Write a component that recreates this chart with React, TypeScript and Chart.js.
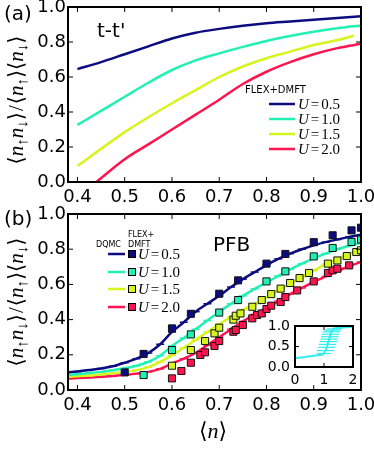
import React, { useEffect, useRef } from 'react';
import { Chart, registerables } from 'chart.js';
Chart.register(...registerables);

// ---------- shared ticks / labels ----------
const xTicks = [0.4, 0.5, 0.6, 0.7, 0.8, 0.9, 1.0];
const yTicks = [0.0, 0.2, 0.4, 0.6, 0.8, 1.0];
const insetXTicks = [0, 1, 2];
const insetYTicks = [0.0, 0.5, 1.0];
const uLabels = ['0.5', '1.0', '1.5', '2.0'];
const colors = ['#0c0c80', '#22f0b4', '#d6f51e', '#ff1450'];

// ---------- panel (a): t-t' FLEX+DMFT ----------
const xA = [0.4, 0.45, 0.5, 0.55, 0.6, 0.65, 0.7, 0.75, 0.8, 0.85, 0.9, 0.95, 1.0];
const aU05 = [0.645, 0.685, 0.73, 0.775, 0.82, 0.853, 0.875, 0.893, 0.907, 0.917, 0.927, 0.937, 0.947];
const aU10 = [0.326, 0.406, 0.487, 0.567, 0.64, 0.695, 0.735, 0.772, 0.806, 0.834, 0.858, 0.878, 0.895];
const xAU15 = [0.4, 0.45, 0.5, 0.55, 0.6, 0.65, 0.7, 0.75, 0.8, 0.85, 0.9, 0.95, 0.985];
const aU15 = [0.091, 0.19, 0.285, 0.37, 0.45, 0.525, 0.6, 0.66, 0.707, 0.745, 0.783, 0.811, 0.836];
const xAU20 = [0.44, 0.5, 0.55, 0.6, 0.65, 0.7, 0.75, 0.8, 0.85, 0.9, 0.95, 1.0];
const aU20 = [0.0, 0.13, 0.215, 0.3, 0.385, 0.47, 0.56, 0.63, 0.685, 0.73, 0.765, 0.79];

// ---------- panel (b): PFB ----------
const xB = [0.38, 0.4, 0.425, 0.45, 0.475, 0.5, 0.525, 0.55, 0.575, 0.6, 0.625, 0.65, 0.675, 0.7, 0.725, 0.75, 0.775, 0.8, 0.825, 0.85, 0.875, 0.9, 0.925, 0.95, 0.975, 1.0];
const bU05 = [0.1, 0.105, 0.113, 0.122, 0.135, 0.155, 0.178, 0.21, 0.26, 0.33, 0.385, 0.445, 0.49, 0.535, 0.585, 0.63, 0.67, 0.71, 0.745, 0.775, 0.8, 0.822, 0.84, 0.855, 0.87, 0.882];
const bU10 = [0.085, 0.09, 0.096, 0.103, 0.112, 0.123, 0.138, 0.16, 0.195, 0.25, 0.295, 0.345, 0.395, 0.445, 0.49, 0.535, 0.575, 0.61, 0.648, 0.685, 0.718, 0.748, 0.775, 0.8, 0.82, 0.835];
const bU15 = [0.075, 0.078, 0.082, 0.088, 0.095, 0.103, 0.113, 0.13, 0.16, 0.197, 0.24, 0.285, 0.33, 0.375, 0.415, 0.455, 0.49, 0.525, 0.565, 0.603, 0.643, 0.678, 0.715, 0.745, 0.775, 0.8];
const bU20 = [0.065, 0.068, 0.071, 0.075, 0.08, 0.086, 0.093, 0.103, 0.12, 0.15, 0.178, 0.21, 0.255, 0.3, 0.345, 0.39, 0.43, 0.462, 0.505, 0.545, 0.58, 0.614, 0.645, 0.675, 0.703, 0.727];

const sqX05 = [0.5, 0.54, 0.6, 0.64, 0.7, 0.74, 0.8, 0.84, 0.9, 0.94, 0.98, 1.0];
const sqY05 = [0.1, 0.205, 0.35, 0.433, 0.547, 0.623, 0.718, 0.773, 0.84, 0.879, 0.907, 0.922];
const sqX10 = [0.54, 0.6, 0.64, 0.7, 0.74, 0.8, 0.84, 0.9, 0.94, 0.98, 1.0];
const sqY10 = [0.085, 0.227, 0.316, 0.44, 0.511, 0.617, 0.674, 0.759, 0.807, 0.841, 0.855];
const sqX15 = [0.6, 0.64, 0.67, 0.69, 0.7, 0.73, 0.735, 0.745, 0.77, 0.79, 0.81, 0.83, 0.85, 0.87, 0.89, 0.93, 0.95, 0.97, 0.99, 1.0];
const sqY15 = [0.138, 0.227, 0.278, 0.322, 0.354, 0.4, 0.422, 0.435, 0.473, 0.511, 0.545, 0.576, 0.608, 0.636, 0.665, 0.718, 0.736, 0.761, 0.784, 0.794];
const sqX20 = [0.6, 0.62, 0.64, 0.66, 0.67, 0.69, 0.7, 0.73, 0.735, 0.75, 0.77, 0.78, 0.79, 0.8, 0.81, 0.83, 0.84, 0.865, 0.9, 0.93, 0.94, 0.95, 0.975];
const sqY20 = [0.066, 0.108, 0.155, 0.199, 0.214, 0.25, 0.278, 0.331, 0.341, 0.369, 0.407, 0.426, 0.435, 0.46, 0.479, 0.5, 0.528, 0.566, 0.617, 0.665, 0.68, 0.689, 0.708];

// ---------- inset ----------
const insetX = [0, 0.3, 0.6, 0.9, 1.0, 1.05, 1.1, 1.12, 1.15, 1.18, 1.2, 1.22, 1.25, 1.3, 1.35, 1.45, 1.6, 1.8, 2.0];
const insetY = [0.22, 0.24, 0.27, 0.3, 0.33, 0.4, 0.48, 0.55, 0.62, 0.68, 0.74, 0.8, 0.86, 0.9, 0.93, 0.95, 0.96, 0.97, 0.98];
const insetXErr = [0, 0, 0, 0.1, 0.25, 0.3, 0.3, 0.3, 0.3, 0.3, 0.3, 0.3, 0.3, 0.28, 0.25, 0.15, 0, 0, 0];

const SANS = "'DejaVu Sans', sans-serif";
const MATH = "'Liberation Serif', 'DejaVu Serif', serif";

const pts = (xs: number[], ys: number[]) => xs.map((x, i) => ({ x, y: ys[i] }));

type Seg = { t: string; f: string; dy?: number; gap?: number };

function drawSegs(ctx: CanvasRenderingContext2D, segs: Seg[], x: number, y: number, center = false) {
  let w = 0;
  for (const s of segs) { ctx.font = s.f; w += ctx.measureText(s.t).width + (s.gap || 0); }
  let cx = center ? x - w / 2 : x;
  for (const s of segs) {
    ctx.font = s.f;
    ctx.fillText(s.t, cx, y + (s.dy || 0));
    cx += ctx.measureText(s.t).width + (s.gap || 0);
  }
}

function yTitleSegs(size: number): Seg[] {
  const R = `${size}px ${MATH}`;
  const I = `italic ${size}px ${MATH}`;
  const S = `${Math.round(size * 0.72)}px ${MATH}`;
  const d = size * 0.28;
  return [
    { t: '\u27E8', f: R }, { t: 'n', f: I }, { t: '\u2191', f: S, dy: d }, { t: 'n', f: I }, { t: '\u2193', f: S, dy: d }, { t: '\u27E9', f: R, gap: 1 },
    { t: '/', f: R, gap: 1 },
    { t: '\u27E8', f: R }, { t: 'n', f: I }, { t: '\u2191', f: S, dy: d }, { t: '\u27E9', f: R },
    { t: '\u27E8', f: R }, { t: 'n', f: I }, { t: '\u2193', f: S, dy: d }, { t: '\u27E9', f: R },
  ];
}

function drawYTitle(ctx: CanvasRenderingContext2D, cx: number, cy: number) {
  ctx.save();
  ctx.translate(cx, cy);
  ctx.rotate(-Math.PI / 2);
  ctx.textBaseline = 'middle';
  ctx.textAlign = 'left';
  drawSegs(ctx, yTitleSegs(21), 0, 0, true);
  ctx.restore();
}

function drawU(ctx: CanvasRenderingContext2D, u: string, x: number, y: number) {
  drawSegs(ctx, [
    { t: 'U', f: `italic 15px ${MATH}`, gap: 2 },
    { t: '=', f: `15px ${MATH}`, gap: 2 },
    { t: u, f: `15px ${MATH}` },
  ], x, y);
}

function seg(ctx: CanvasRenderingContext2D, x1: number, y1: number, x2: number, y2: number) {
  ctx.beginPath(); ctx.moveTo(x1, y1); ctx.lineTo(x2, y2); ctx.stroke();
}

type FrameOpts = { len: number; lw: number; fs: number; xOff: number; yPad: number; xdec: number; ydec: number };

const framePlugin = (o: FrameOpts) => ({
  id: 'frame',
  afterDatasetsDraw(chart: any) {
    const { ctx, chartArea, scales } = chart;
    const { left, right, top, bottom } = chartArea;
    ctx.save();
    ctx.strokeStyle = '#000';
    ctx.fillStyle = '#000';
    ctx.lineWidth = 1;
    ctx.font = `${o.fs}px ${SANS}`;
    ctx.textBaseline = 'middle';
    for (const t of scales.x.ticks) {
      const px = scales.x.getPixelForValue(t.value);
      seg(ctx, px, bottom, px, bottom - o.len);
      seg(ctx, px, top, px, top + o.len);
      ctx.textAlign = 'center';
      ctx.fillText(Number(t.value).toFixed(o.xdec), px, bottom + o.xOff);
    }
    for (const t of scales.y.ticks) {
      const py = scales.y.getPixelForValue(t.value);
      seg(ctx, left, py, left + o.len, py);
      seg(ctx, right, py, right - o.len, py);
      ctx.textAlign = 'right';
      ctx.fillText(Number(t.value).toFixed(o.ydec), left - o.yPad, py);
    }
    ctx.lineWidth = o.lw;
    ctx.strokeRect(left, top, right - left, bottom - top);
    ctx.restore();
  },
});

function scalesFor(opts: { xmin: number; xmax: number; xt: number[]; yt: number[]; yW: number; xH: number }) {
  return {
    x: {
      type: 'linear', min: opts.xmin, max: opts.xmax,
      afterBuildTicks: (s: any) => { s.ticks = opts.xt.map((v) => ({ value: v })); },
      afterFit: (s: any) => { s.height = opts.xH; s.paddingLeft = 0; s.paddingRight = 0; },
      grid: { display: false, drawTicks: false },
      border: { display: false },
      ticks: { display: false },
    },
    y: {
      type: 'linear', min: 0, max: 1,
      afterBuildTicks: (s: any) => { s.ticks = opts.yt.map((v) => ({ value: v })); },
      afterFit: (s: any) => { s.width = opts.yW; s.paddingTop = 0; s.paddingBottom = 0; },
      grid: { display: false, drawTicks: false },
      border: { display: false },
      ticks: { display: false },
    },
  };
}

const lineDS = (data: any[], color: string, extra: any = {}) => ({
  data, borderColor: color, backgroundColor: color, borderWidth: 2.5, showLine: true,
  pointRadius: 0, cubicInterpolationMode: 'monotone', ...extra,
});

export default function App() {
  const refA = useRef<HTMLCanvasElement>(null);
  const refB = useRef<HTMLCanvasElement>(null);
  const refI = useRef<HTMLCanvasElement>(null);

  useEffect(() => {
    const base = { responsive: false, animation: false, devicePixelRatio: 1, events: [] as any[], plugins: { legend: { display: false }, tooltip: { enabled: false } } };
    const mainFrame: FrameOpts = { len: 5, lw: 2, fs: 18, xOff: 15, yPad: 2, xdec: 1, ydec: 1 };

    // ---- panel (a)
    const textA = {
      id: 'textA',
      afterDraw(chart: any) {
        const ctx = chart.ctx as CanvasRenderingContext2D;
        ctx.save();
        ctx.fillStyle = '#000';
        ctx.textBaseline = 'middle';
        ctx.textAlign = 'left';
        ctx.font = `20px ${SANS}`;
        ctx.fillText('(a)', 4, 15);
        ctx.fillText("t-t'", 97, 32);
        ctx.font = `10px ${SANS}`;
        ctx.fillText('FLEX+DMFT', 245, 90);
        uLabels.forEach((u, i) => {
          const y = 104 + 15 * i;
          ctx.strokeStyle = colors[i];
          ctx.lineWidth = 2.5;
          seg(ctx, 269, y, 295, y);
          ctx.fillStyle = '#000';
          drawU(ctx, u, 298, y + 1);
        });
        drawYTitle(ctx, 17, 100);
        ctx.restore();
      },
    };
    const chartA = new Chart(refA.current!, {
      type: 'scatter',
      data: {
        datasets: [
          lineDS(pts(xA, aU05), colors[0]),
          lineDS(pts(xA, aU10), colors[1]),
          lineDS(pts(xAU15, aU15), colors[2]),
          lineDS(pts(xAU20, aU20), colors[3]),
        ],
      },
      options: {
        ...base,
        layout: { padding: { left: 0, right: 13, top: 7, bottom: 0 } },
        scales: scalesFor({ xmin: 0.38, xmax: 1.0, xt: xTicks, yt: yTicks, yW: 68, xH: 32 }) as any,
      } as any,
      plugins: [framePlugin(mainFrame), textA],
    });

    // ---- panel (b)
    const textB = {
      id: 'textB',
      afterDraw(chart: any) {
        const ctx = chart.ctx as CanvasRenderingContext2D;
        ctx.save();
        ctx.fillStyle = '#000';
        ctx.textBaseline = 'middle';
        ctx.textAlign = 'left';
        ctx.font = `20px ${SANS}`;
        ctx.fillText('(b)', 4, 15);
        ctx.fillText('PFB', 213, 41);
        ctx.font = `8px ${SANS}`;
        ctx.fillText('DQMC', 96, 40);
        ctx.fillText('FLEX+', 128, 30);
        ctx.fillText('DMFT', 128, 40);
        uLabels.forEach((u, i) => {
          const y = [49, 67, 84, 102][i];
          ctx.strokeStyle = colors[i];
          ctx.lineWidth = 2.5;
          seg(ctx, 108, y, 125, y);
          ctx.fillStyle = colors[i];
          ctx.fillRect(128.5, y - 3.5, 7, 7);
          ctx.strokeStyle = '#000';
          ctx.lineWidth = 1;
          ctx.strokeRect(128.5, y - 3.5, 7, 7);
          ctx.fillStyle = '#000';
          drawU(ctx, u, 138, y + 1);
        });
        drawYTitle(ctx, 17, 97);
        ctx.textBaseline = 'middle';
        drawSegs(ctx, [
          { t: '\u27E8', f: `22px ${MATH}` },
          { t: 'n', f: `italic 22px ${MATH}` },
          { t: '\u27E9', f: `22px ${MATH}` },
        ], 213, 227, true);
        ctx.restore();
      },
    };
    const sqDS = (data: any[], color: string) => ({
      data, showLine: false, pointStyle: 'rect', pointRadius: 5,
      pointBackgroundColor: color, pointBorderColor: '#111', pointBorderWidth: 1,
    });
    const errLine = (color: string) => ({
      pointStyle: 'line', pointRadius: (c: any) => (c.dataIndex === 0 ? 0 : 4),
      pointBorderColor: color, pointBorderWidth: 1.5,
    });
    const chartB = new Chart(refB.current!, {
      type: 'scatter',
      data: {
        datasets: [
          sqDS(pts(sqX05, sqY05), colors[0]),
          sqDS(pts(sqX10, sqY10), colors[1]),
          sqDS(pts(sqX15, sqY15), colors[2]),
          sqDS(pts(sqX20, sqY20), colors[3]),
          lineDS(pts(xB, bU05), colors[0], errLine(colors[0])),
          lineDS(pts(xB, bU10), colors[1], errLine(colors[1])),
          lineDS(pts(xB, bU15), colors[2], errLine(colors[2])),
          lineDS(pts(xB, bU20), colors[3], errLine(colors[3])),
        ],
      },
      options: {
        ...base,
        layout: { padding: { left: 0, right: 13, top: 9, bottom: 0 } },
        scales: scalesFor({ xmin: 0.38, xmax: 1.0, xt: xTicks, yt: yTicks, yW: 68, xH: 59 }) as any,
      } as any,
      plugins: [framePlugin(mainFrame), textB],
    });

    // ---- inset
    const insetBg = {
      id: 'insetBg',
      beforeDatasetsDraw(chart: any) {
        const { ctx, chartArea: a } = chart;
        ctx.save();
        ctx.fillStyle = '#fff';
        ctx.fillRect(a.left, a.top, a.right - a.left, a.bottom - a.top);
        ctx.restore();
      },
      afterDatasetsDraw(chart: any) {
        const { ctx, scales } = chart;
        ctx.save();
        ctx.strokeStyle = '#33eeee';
        ctx.lineWidth = 1.2;
        insetX.forEach((x, i) => {
          const e = insetXErr[i];
          if (!e) return;
          const py = scales.y.getPixelForValue(insetY[i]);
          seg(ctx, scales.x.getPixelForValue(x - e), py, scales.x.getPixelForValue(x + e), py);
        });
        ctx.restore();
      },
    };
    const chartI = new Chart(refI.current!, {
      type: 'scatter',
      data: {
        datasets: [
          { data: pts(insetX, insetY), borderColor: '#33eeee', borderWidth: 2, showLine: true, pointRadius: 0, cubicInterpolationMode: 'monotone' } as any,
        ],
      },
      options: {
        ...base,
        layout: { padding: { left: 0, right: 12, top: 10, bottom: 0 } },
        scales: scalesFor({ xmin: 0, xmax: 2, xt: insetXTicks, yt: insetYTicks, yW: 40, xH: 25 }) as any,
      } as any,
      plugins: [insetBg, framePlugin({ len: 4, lw: 2, fs: 14, xOff: 13, yPad: 5, xdec: 0, ydec: 1 })],
    });

    return () => { chartA.destroy(); chartB.destroy(); chartI.destroy(); };
  }, []);

  return (
    <div style={{ position: 'absolute', left: 0, top: 0, width: 374, height: 449, background: '#fff', overflow: 'hidden' }}>
      <canvas ref={refA} width={374} height={214} style={{ position: 'absolute', left: 0, top: 0, width: 374, height: 214 }} />
      <canvas ref={refB} width={374} height={244} style={{ position: 'absolute', left: 0, top: 205, width: 374, height: 244 }} />
      <canvas ref={refI} width={110} height={76} style={{ position: 'absolute', left: 255, top: 316, width: 110, height: 76 }} />
    </div>
  );
}
